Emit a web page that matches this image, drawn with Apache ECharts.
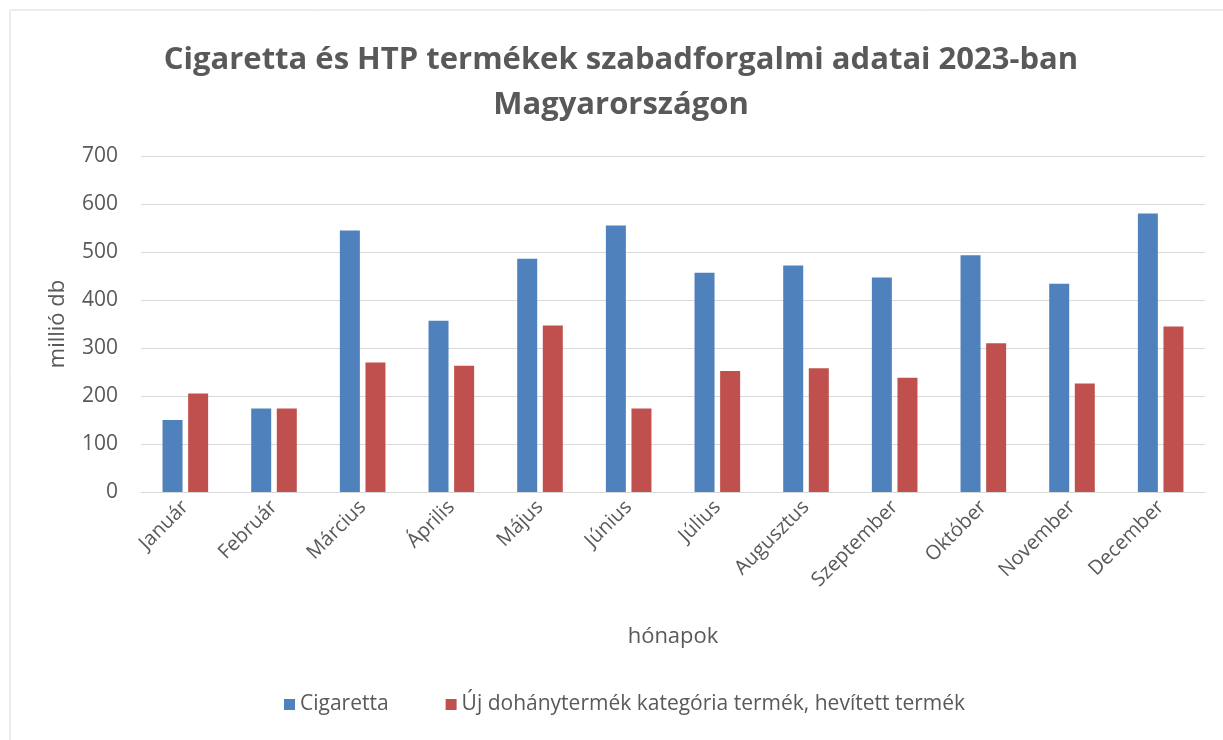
<!DOCTYPE html>
<html>
<head>
<meta charset="utf-8">
<script src="https://cdn.jsdelivr.net/npm/echarts@6/dist/echarts.min.js"></script>
<style>
  html, body { margin: 0; padding: 0; background: #fff; }
  #chart { width: 1223px; height: 740px; }
</style>
</head>
<body>
<div id="chart"></div>
<script>
var months = ['Január', 'Február', 'Március', 'Április', 'Május', 'Június',
    'Július', 'Augusztus', 'Szeptember', 'Október', 'November', 'December'];
var cigaretta = [150, 174, 545, 357, 486, 555, 457, 472, 447, 493, 434, 580];
var hevitett = [205, 174, 270, 263, 347, 174, 252, 258, 238, 310, 226, 345];
var seriesNames = ['Cigaretta', 'Új dohánytermék kategória termék, hevített termék'];
var titleText = 'Cigaretta és HTP termékek szabadforgalmi adatai 2023-ban\nMagyarországon';

var textColor = '#595959';
var font = 'Open Sans';

var chart = echarts.init(document.getElementById('chart'));

var option = {
    backgroundColor: '#fff',
    animation: false,
    graphic: [{
        type: 'rect',
        shape: { x: 10, y: 10, width: 1260, height: 800 },
        style: { fill: 'none', stroke: '#d9d9d9', lineWidth: 1 },
        silent: true
    }, {
        // chart title, centred on the framed area rather than the page
        type: 'text',
        x: 621,
        y: 38,
        silent: true,
        style: {
            text: titleText,
            fontFamily: font,
            fontWeight: 'bold',
            fontSize: 31,
            lineHeight: 45,
            fill: textColor,
            align: 'center',
            textAlign: 'center',
            verticalAlign: 'top'
        }
    }],
    legend: {
        data: seriesNames,
        bottom: 20,
        left: 279,
        itemWidth: 11,
        itemHeight: 11,
        itemGap: 57,
        icon: 'rect',
        textStyle: { fontFamily: font, fontSize: 21, color: textColor }
    },
    grid: {
        left: 141,
        right: 18,
        top: 156,
        bottom: 248
    },
    xAxis: {
        type: 'category',
        data: months,
        name: 'hónapok',
        nameLocation: 'middle',
        nameGap: 134,
        nameTextStyle: { fontFamily: font, fontSize: 22, color: textColor },
        axisLine: { lineStyle: { color: '#d9d9d9' } },
        axisTick: { show: false },
        axisLabel: {
            rotate: 45,
            interval: 0,
            margin: 12,
            fontFamily: font,
            fontSize: 20,
            color: textColor
        }
    },
    yAxis: {
        type: 'value',
        min: 0,
        max: 700,
        interval: 100,
        name: 'millió db',
        nameLocation: 'middle',
        nameGap: 72,
        nameTextStyle: { fontFamily: font, fontSize: 22, color: textColor },
        axisLine: { show: false },
        axisTick: { show: false },
        axisLabel: { margin: 23, fontFamily: font, fontSize: 21, color: textColor },
        splitLine: { lineStyle: { color: '#d9d9d9', width: 1 } }
    },
    series: [
        {
            name: seriesNames[0],
            type: 'bar',
            data: cigaretta,
            barWidth: 20,
            barGap: '28%',
            itemStyle: { color: '#4F81BD' }
        },
        {
            name: seriesNames[1],
            type: 'bar',
            data: hevitett,
            barWidth: 20,
            itemStyle: { color: '#C0504D' }
        }
    ]
};

chart.setOption(option);
</script>
</body>
</html>
